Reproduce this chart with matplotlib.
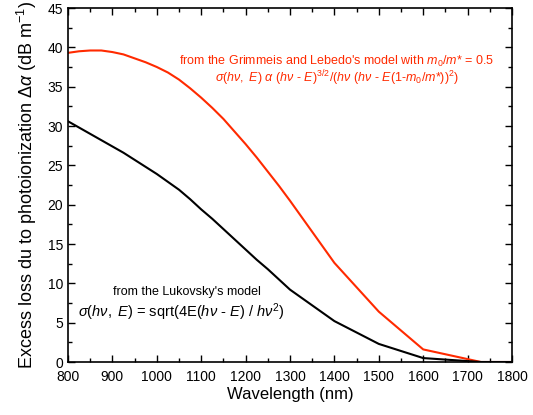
import matplotlib
matplotlib.use("Agg")
import matplotlib.pyplot as plt
from matplotlib.ticker import MultipleLocator

# values
wavelength = [800, 825, 850, 875, 900, 925, 950, 975, 1000, 1025, 1050, 1075,
              1100, 1125, 1150, 1175, 1200, 1225, 1250, 1275, 1300,
              1400, 1500, 1600, 1730, 1800]
loss_grimmeis = [39.3, 39.5, 39.6, 39.6, 39.4, 39.1, 38.6, 38.1, 37.5, 36.8,
                 35.9, 34.8, 33.6, 32.3, 30.9, 29.3, 27.7, 26.0, 24.2, 22.4,
                 20.5, 12.6, 6.4, 1.6, 0.0, 0.0]
loss_lukovsky = [30.6, 29.8, 29.0, 28.2, 27.4, 26.6, 25.7, 24.8, 23.9, 22.9,
                 21.9, 20.7, 19.4, 18.2, 16.9, 15.6, 14.3, 13.0, 11.8, 10.5,
                 9.2, 5.2, 2.3, 0.5, 0.0, 0.0]

RED = "#ff2a00"

plt.rcParams["font.family"] = ["Liberation Sans", "DejaVu Sans"]
plt.rcParams["mathtext.fontset"] = "custom"
plt.rcParams["mathtext.rm"] = "Liberation Sans"
plt.rcParams["mathtext.it"] = "Liberation Sans:italic"
plt.rcParams["mathtext.bf"] = "Liberation Sans:bold"

fig = plt.figure(figsize=(5.33, 4.15), dpi=100)
ax = fig.add_axes([0.1276, 0.1277, 0.833, 0.853])

ax.plot(wavelength, loss_grimmeis, color=RED, lw=1.5)
ax.plot(wavelength, loss_lukovsky, color="black", lw=1.5)

ax.set_xlim(800, 1800)
ax.set_ylim(0, 45)
ax.xaxis.set_major_locator(MultipleLocator(100))
ax.xaxis.set_minor_locator(MultipleLocator(50))
ax.yaxis.set_major_locator(MultipleLocator(5))
ax.yaxis.set_minor_locator(MultipleLocator(2.5))
ax.tick_params(which="both", direction="in", top=True, right=True,
               labelsize=10, width=1)
ax.tick_params(which="major", length=5)
ax.tick_params(which="minor", length=3)
ax.tick_params(axis="x", pad=6)
for s in ax.spines.values():
    s.set_linewidth(1.2)

ax.set_xlabel("Wavelength (nm)", fontsize=12, labelpad=2)
ax.set_ylabel(r"Excess loss du to photoionization $\mathit{\Delta\alpha}$ (dB m$^{-1}$)",
              fontsize=13, labelpad=6)

ax.text(0.605, 0.850, r"from the Grimmeis and Lebedo's model with $m_0/m$* = 0.5",
        transform=ax.transAxes, ha="center", va="center", color=RED, fontsize=9)
ax.text(0.605, 0.802,
        r"$\sigma(h\nu,\ E)\ \alpha\ (h\nu\ $- $E)^{3/2}$/$(h\nu\ (h\nu$ - $E$(1-$m_0$/$m$*))$^2$)",
        transform=ax.transAxes, ha="center", va="center", color=RED, fontsize=9)

ax.text(0.268, 0.198, "from the Lukovsky's model",
        transform=ax.transAxes, ha="center", va="center", color="black", fontsize=9)
ax.text(0.255, 0.141, r"$\sigma(h\nu,\ E)$ = sqrt(4E($h\nu$ - $E$) / $h\nu^2$)",
        transform=ax.transAxes, ha="center", va="center", color="black", fontsize=10.5)

fig.savefig("out.png", dpi=100)
